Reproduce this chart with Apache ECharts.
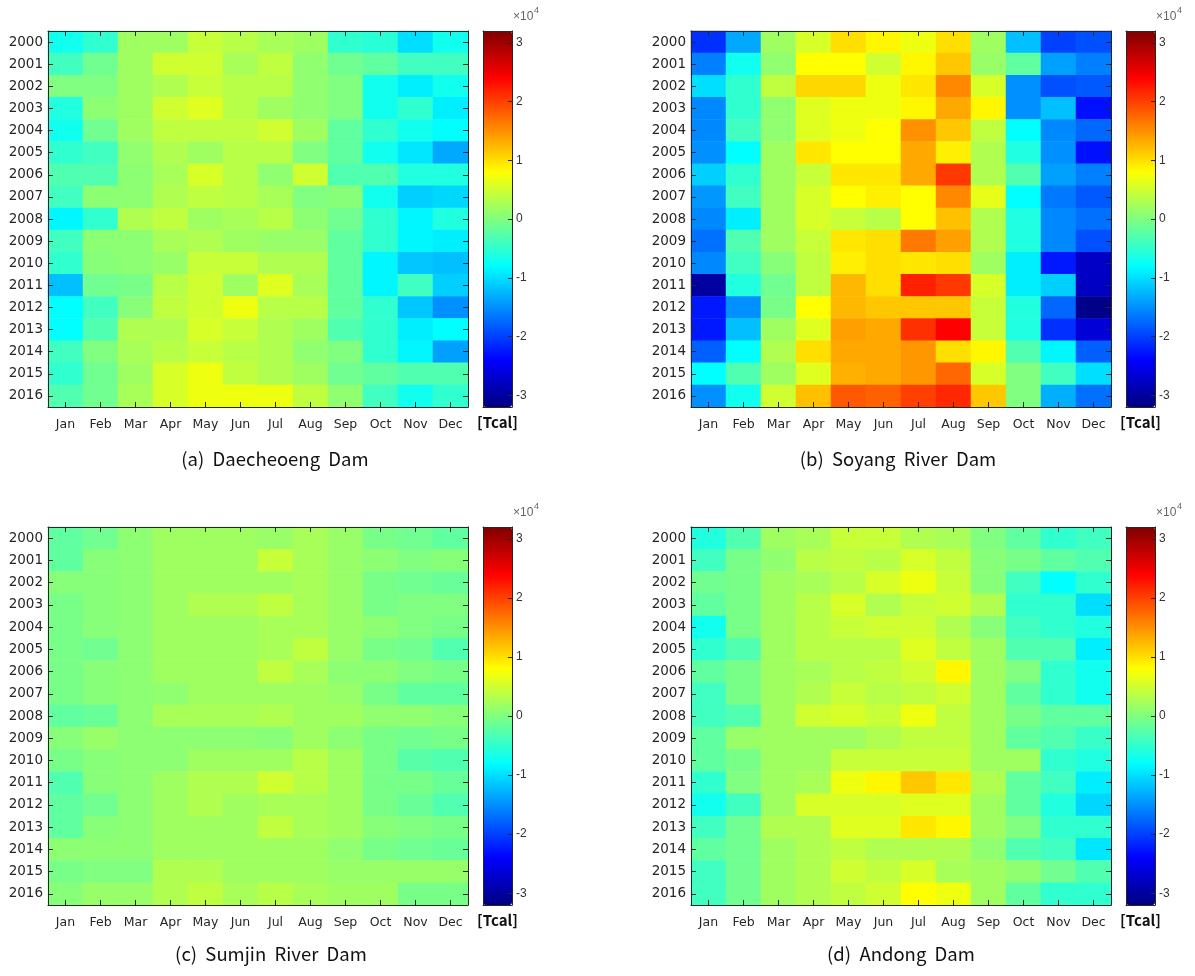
<!DOCTYPE html>
<html>
<head>
<meta charset="utf-8">
<title>Dam heat maps</title>
<script src="https://cdn.jsdelivr.net/npm/echarts@6/dist/echarts.min.js"></script>
<style>
  html, body { margin: 0; padding: 0; background: #fff; }
  #main { width: 1195px; height: 976px; }
</style>
</head>
<body>
<div id="main"></div>
<script>
// values in x10^4 Tcal, rows = years 2000..2016, cols = Jan..Dec
const months = ['Jan', 'Feb', 'Mar', 'Apr', 'May', 'Jun', 'Jul', 'Aug', 'Sep', 'Oct', 'Nov', 'Dec']
const years = ['2000', '2001', '2002', '2003', '2004', '2005', '2006', '2007', '2008',
  '2009', '2010', '2011', '2012', '2013', '2014', '2015', '2016']
const cbarTicks = [-3, -2, -1, 0, 1, 2, 3]
const titles = ['(a)  Daecheoeng  Dam', '(b)  Soyang  River  Dam', '(c)  Sumjin  River  Dam', '(d)  Andong  Dam']

const daecheoeng = [
  [-0.7, -0.5, 0.2, 0.2, 0.45, 0.35, 0.25, 0.2, -0.5, -0.55, -1.0, -0.7],
  [-0.4, -0.1, 0.2, 0.5, 0.5, 0.25, 0.4, 0.1, -0.1, -0.2, -0.4, -0.4],
  [0, 0, 0.2, 0.3, 0.45, 0.35, 0.35, 0.1, 0, -0.7, -0.9, -0.7],
  [-0.6, 0.08, 0.2, 0.5, 0.6, 0.35, 0.2, 0.1, 0, -0.7, -0.5, -0.9],
  [-0.7, -0.1, 0.2, 0.4, 0.4, 0.4, 0.5, 0.2, -0.2, -0.5, -0.7, -0.8],
  [-0.5, -0.4, 0.1, 0.3, 0.2, 0.35, 0.35, 0, -0.2, -0.7, -0.95, -1.35],
  [-0.3, -0.3, 0.08, 0.25, 0.55, 0.35, 0.1, 0.5, -0.3, -0.3, -0.6, -0.6],
  [-0.4, 0.08, 0.08, 0.3, 0.4, 0.35, 0.25, 0, 0.05, -0.7, -1.1, -1.05],
  [-0.85, -0.5, 0.3, 0.4, 0.2, 0.25, 0.35, 0.08, -0.1, -0.5, -0.85, -0.6],
  [-0.4, 0.08, 0.08, 0.25, 0.3, 0.2, 0.15, 0.15, -0.2, -0.5, -0.85, -0.9],
  [-0.5, 0.05, 0.08, 0.15, 0.45, 0.45, 0.3, 0.3, -0.2, -0.85, -1.15, -1.2],
  [-1.2, -0.1, -0.05, 0.35, 0.5, 0.2, 0.6, 0.25, -0.2, -0.85, -0.4, -1.1],
  [-0.8, -0.4, 0.05, 0.4, 0.5, 0.7, 0.35, 0.35, -0.2, -0.5, -1.15, -1.5],
  [-0.8, -0.3, 0.3, 0.3, 0.55, 0.45, 0.3, 0.2, -0.3, -0.5, -0.9, -0.8],
  [-0.4, 0, 0.25, 0.35, 0.45, 0.35, 0.3, 0.1, 0, -0.5, -0.85, -1.4],
  [-0.5, -0.1, 0.2, 0.55, 0.7, 0.4, 0.3, 0.2, -0.1, -0.2, -0.3, -0.3],
  [-0.3, -0.1, 0.25, 0.55, 0.7, 0.7, 0.7, 0.4, 0.1, -0.4, -0.7, -0.5]
]

const soyang = [
  [-2.1, -1.35, 0.2, 0.55, 1.0, 0.85, 0.7, 1.0, 0.2, -1.2, -2.0, -1.9],
  [-1.6, -0.7, 0.1, 0.8, 0.8, 0.5, 0.85, 1.15, 0.15, -0.2, -1.4, -1.6],
  [-1.0, -0.5, 0.4, 1.05, 1.05, 0.7, 0.95, 1.55, 0.55, -1.5, -1.9, -1.85],
  [-1.55, -0.5, 0.1, 0.6, 0.7, 0.7, 0.85, 1.35, 0.85, -1.5, -1.2, -2.3],
  [-1.55, -0.4, 0.1, 0.6, 0.7, 0.8, 1.5, 1.15, 0.4, -0.8, -1.55, -1.75],
  [-1.5, -0.8, 0.2, 0.95, 0.8, 0.8, 1.35, 0.9, 0.3, -0.6, -1.5, -2.3],
  [-1.1, -0.5, 0.2, 0.45, 0.95, 0.95, 1.35, 2.05, 0.3, -0.3, -1.4, -1.6],
  [-1.45, -0.4, 0.2, 0.55, 0.8, 0.9, 0.8, 1.55, 0.65, -0.8, -1.65, -1.85],
  [-1.55, -0.9, 0.2, 0.55, 0.45, 0.35, 0.8, 1.2, 0.3, -0.6, -1.55, -1.7],
  [-1.7, -0.3, 0.2, 0.45, 0.95, 1.0, 1.65, 1.4, 0.3, -0.6, -1.55, -1.9],
  [-1.55, -0.4, 0.05, 0.4, 0.9, 1.0, 0.95, 1.0, 0.2, -0.9, -2.25, -2.75],
  [-3.0, -0.6, -0.1, 0.4, 1.25, 1.0, 2.2, 2.05, 0.55, -0.9, -1.1, -2.8],
  [-2.25, -1.5, -0.05, 0.8, 1.25, 1.15, 1.15, 1.15, 0.45, -0.6, -1.75, -3.15],
  [-2.25, -1.2, 0.2, 0.6, 1.4, 1.35, 2.1, 2.4, 0.45, -0.6, -2.1, -2.65],
  [-1.8, -0.8, 0.3, 1.0, 1.35, 1.35, 1.45, 1.0, 0.85, -0.3, -0.85, -1.8],
  [-0.8, -0.3, 0.2, 0.6, 1.3, 1.35, 1.45, 1.75, 0.55, 0, -0.4, -1.0],
  [-1.5, -0.7, 0.5, 1.2, 1.85, 1.8, 2.0, 2.15, 1.15, 0, -1.3, -1.7]
]

const sumjin = [
  [-0.2, -0.1, 0.08, 0.2, 0.2, 0.2, 0.15, 0.25, 0.15, -0.05, -0.1, -0.2],
  [-0.2, 0.05, 0.08, 0.2, 0.2, 0.2, 0.45, 0.25, 0.15, 0.08, 0, 0.05],
  [0.05, 0.05, 0.08, 0.2, 0.2, 0.2, 0.2, 0.25, 0.15, -0.05, -0.1, -0.15],
  [-0.05, 0.05, 0.08, 0.2, 0.3, 0.3, 0.4, 0.25, 0.15, -0.05, 0, 0],
  [-0.05, 0.05, 0.08, 0.2, 0.2, 0.2, 0.25, 0.25, 0.15, 0.08, 0, -0.05],
  [-0.05, -0.1, 0.08, 0.2, 0.2, 0.2, 0.25, 0.4, 0.15, -0.05, -0.1, -0.3],
  [-0.05, 0.05, 0.08, 0.2, 0.2, 0.2, 0.4, 0.25, 0.08, 0.08, 0, -0.05],
  [-0.05, 0.05, 0.08, 0.1, 0.2, 0.2, 0.2, 0.2, 0.15, -0.05, -0.2, -0.2],
  [-0.2, -0.15, 0.08, 0.25, 0.25, 0.25, 0.3, 0.2, 0.2, 0.1, 0.1, 0.05],
  [0.05, 0.15, 0.08, 0.08, 0.08, 0.08, 0.05, 0.2, 0.08, -0.05, -0.1, -0.05],
  [-0.05, 0.05, 0.08, 0.08, 0.2, 0.2, 0.2, 0.35, 0.2, -0.05, -0.25, -0.3],
  [-0.3, 0.05, 0.08, 0.2, 0.3, 0.3, 0.5, 0.35, 0.2, -0.05, -0.05, -0.15],
  [-0.2, -0.1, 0.08, 0.2, 0.3, 0.2, 0.25, 0.25, 0.2, -0.05, -0.15, -0.3],
  [-0.2, 0.05, 0.08, 0.2, 0.2, 0.2, 0.4, 0.25, 0.2, 0.05, 0, -0.05],
  [0.08, 0.08, 0.08, 0.2, 0.2, 0.2, 0.2, 0.2, 0.1, -0.05, -0.1, -0.15],
  [-0.05, 0, 0, 0.3, 0.3, 0.2, 0.2, 0.2, 0.15, 0.15, 0.15, 0.15],
  [0.05, 0.15, 0.15, 0.3, 0.4, 0.25, 0.35, 0.25, 0.2, 0.2, -0.05, -0.05]
]

const andong = [
  [-0.6, -0.3, 0.2, 0.25, 0.45, 0.45, 0.3, 0.25, 0, -0.2, -0.5, -0.4],
  [-0.4, -0.05, 0.1, 0.35, 0.4, 0.35, 0.55, 0.4, 0.05, -0.05, -0.2, -0.3],
  [-0.1, -0.05, 0.2, 0.25, 0.35, 0.55, 0.7, 0.45, 0.05, -0.4, -0.8, -0.5],
  [-0.2, -0.05, 0.2, 0.35, 0.55, 0.3, 0.45, 0.5, 0.3, -0.5, -0.5, -1.0],
  [-0.7, -0.05, 0.2, 0.35, 0.45, 0.5, 0.5, 0.3, 0.05, -0.4, -0.5, -0.6],
  [-0.5, -0.3, 0.2, 0.35, 0.35, 0.35, 0.6, 0.4, 0.2, -0.3, -0.3, -0.9],
  [-0.2, -0.05, 0.2, 0.25, 0.35, 0.4, 0.5, 0.85, 0.2, 0, -0.5, -0.7],
  [-0.4, -0.05, 0.2, 0.3, 0.45, 0.35, 0.4, 0.5, 0.2, -0.2, -0.5, -0.7],
  [-0.4, -0.3, 0.2, 0.5, 0.55, 0.45, 0.7, 0.4, 0.2, -0.05, -0.2, -0.2],
  [-0.2, 0.15, 0.2, 0.2, 0.2, 0.3, 0.4, 0.4, 0.2, -0.2, -0.3, -0.45],
  [-0.2, -0.05, 0.2, 0.2, 0.45, 0.45, 0.45, 0.45, 0.2, 0.2, -0.5, -0.6],
  [-0.5, 0, 0.2, 0.25, 0.7, 0.85, 1.15, 0.95, 0.3, -0.2, -0.4, -0.9],
  [-0.7, -0.4, 0.2, 0.55, 0.55, 0.55, 0.6, 0.6, 0.2, -0.2, -0.6, -1.05],
  [-0.4, -0.1, 0.3, 0.3, 0.6, 0.6, 0.95, 0.85, 0.2, 0, -0.5, -0.5],
  [-0.2, -0.1, 0.2, 0.3, 0.4, 0.3, 0.3, 0.3, 0.1, -0.3, -0.4, -0.95],
  [-0.4, -0.1, 0.2, 0.3, 0.5, 0.4, 0.55, 0.25, 0.2, 0.1, -0.1, -0.3],
  [-0.4, -0.1, 0.2, 0.3, 0.4, 0.5, 0.8, 0.7, 0.2, -0.2, -0.5, -0.5]
]

const dams = [daecheoeng, soyang, sumjin, andong]

// MATLAB jet
const jet = ['#000080', '#0000ff', '#0080ff', '#00ffff', '#80ff80', '#ffff00', '#ff8000', '#ff0000', '#800000']
const vmin = -3.2
const vmax = 3.2

const layout = [
  { left: 48, top: 31, height: 376, titleX: 275, titleY: 450 },
  { left: 691, top: 31, height: 376, titleX: 898, titleY: 450 },
  { left: 48, top: 527, height: 378, titleX: 271, titleY: 945 },
  { left: 691, top: 527, height: 378, titleX: 901, titleY: 945 }
]
const plotW = 420
const cbarGap = 15
const cbarW = 29
const ink = '#262626'
const font = '"Noto Sans CJK KR", "Noto Sans", sans-serif'
const tickFont = '"DejaVu Sans", sans-serif'
const arial = '"Liberation Sans", Arial, sans-serif'

function toCells(rows) {
  const out = []
  rows.forEach((row, yi) => row.forEach((v, xi) => out.push([xi, yi, v])))
  return out
}

const option = {
  animation: false,
  backgroundColor: '#fff',
  grid: [], xAxis: [], yAxis: [], visualMap: [], series: [], graphic: []
}

const hidden = { show: false }

layout.forEach((L, p) => {
  const g = option.grid.length
  const cx = L.left + plotW + cbarGap
  option.grid.push({ left: L.left, top: L.top, width: plotW, height: L.height })
  option.grid.push({ left: cx, top: L.top, width: cbarW, height: L.height })

  const xi = option.xAxis.length
  const yi = option.yAxis.length
  const line = { show: true, onZero: false, lineStyle: { color: ink, width: 1 } }
  const tick = { show: true, inside: true, length: 5, alignWithLabel: true, lineStyle: { color: ink } }

  // heatmap axes
  option.xAxis.push({
    type: 'category', gridIndex: g, data: months, position: 'bottom', z: 10,
    axisLine: line, axisTick: tick,
    axisLabel: { color: ink, fontSize: 12.5, margin: 11, fontFamily: tickFont }, splitLine: hidden
  })
  option.xAxis.push({
    type: 'category', gridIndex: g, data: months, position: 'top', z: 10,
    axisLine: line, axisTick: tick, axisLabel: hidden, splitLine: hidden
  })
  option.yAxis.push({
    type: 'category', gridIndex: g, data: years, inverse: true, position: 'left', z: 10,
    axisLine: line, axisTick: tick,
    axisLabel: { color: ink, fontSize: 13.5, margin: 5, fontFamily: tickFont }, splitLine: hidden
  })
  option.yAxis.push({
    type: 'category', gridIndex: g, data: years, inverse: true, position: 'right', z: 10,
    axisLine: line, axisTick: tick, axisLabel: hidden, splitLine: hidden
  })

  // colorbar frame + ticks
  option.xAxis.push({
    type: 'value', gridIndex: g + 1, min: 0, max: 1, position: 'bottom', z: 10,
    axisLine: line, axisTick: hidden, axisLabel: hidden, splitLine: hidden
  })
  option.xAxis.push({
    type: 'value', gridIndex: g + 1, min: 0, max: 1, position: 'top', z: 10,
    axisLine: line, axisTick: hidden, axisLabel: hidden, splitLine: hidden
  })
  option.yAxis.push({
    type: 'value', gridIndex: g + 1, min: vmin, max: vmax, position: 'left', z: 10,
    axisLine: line, axisTick: hidden, axisLabel: hidden, splitLine: hidden
  })
  option.yAxis.push({
    type: 'value', gridIndex: g + 1, min: vmin, max: vmax, position: 'right', z: 10,
    splitNumber: 6,
    axisLine: line,
    axisTick: { show: true, inside: true, length: 4, lineStyle: { color: ink } },
    axisLabel: {
      color: '#333', fontSize: 12, margin: 4, fontFamily: arial,
      showMinLabel: false, showMaxLabel: false,
      formatter: v => (cbarTicks.indexOf(v) >= 0 ? String(v) : '')
    },
    splitLine: hidden
  })

  option.series.push({
    type: 'heatmap', xAxisIndex: xi, yAxisIndex: yi,
    data: toCells(dams[p]), emphasis: { disabled: true }
  })

  option.visualMap.push({
    type: 'continuous', seriesIndex: p, min: vmin, max: vmax,
    calculable: false, orient: 'vertical', left: cx, top: L.top,
    itemWidth: cbarW, itemHeight: L.height, padding: 0, text: null,
    inRange: { color: jet }
  })

  // annotations
  option.graphic.push({
    type: 'text', x: L.titleX, y: L.titleY,
    style: { text: titles[p], font: '18.5px ' + font, fill: '#111', textAlign: 'center' }
  })
  option.graphic.push({
    type: 'text', x: cx + cbarW / 2, y: L.top + L.height + 8,
    style: { text: '[Tcal]', font: 'bold 15px ' + font, fill: '#111', textAlign: 'center' }
  })
  option.graphic.push({
    type: 'text', x: cx + 30, y: L.top - 20,
    style: { text: '×10', font: '12px ' + arial, fill: '#666' }
  })
  option.graphic.push({
    type: 'text', x: cx + 51, y: L.top - 25,
    style: { text: '4', font: '9px ' + arial, fill: '#666' }
  })
})

const chart = echarts.init(document.getElementById('main'))
chart.setOption(option)
</script>
</body>
</html>
